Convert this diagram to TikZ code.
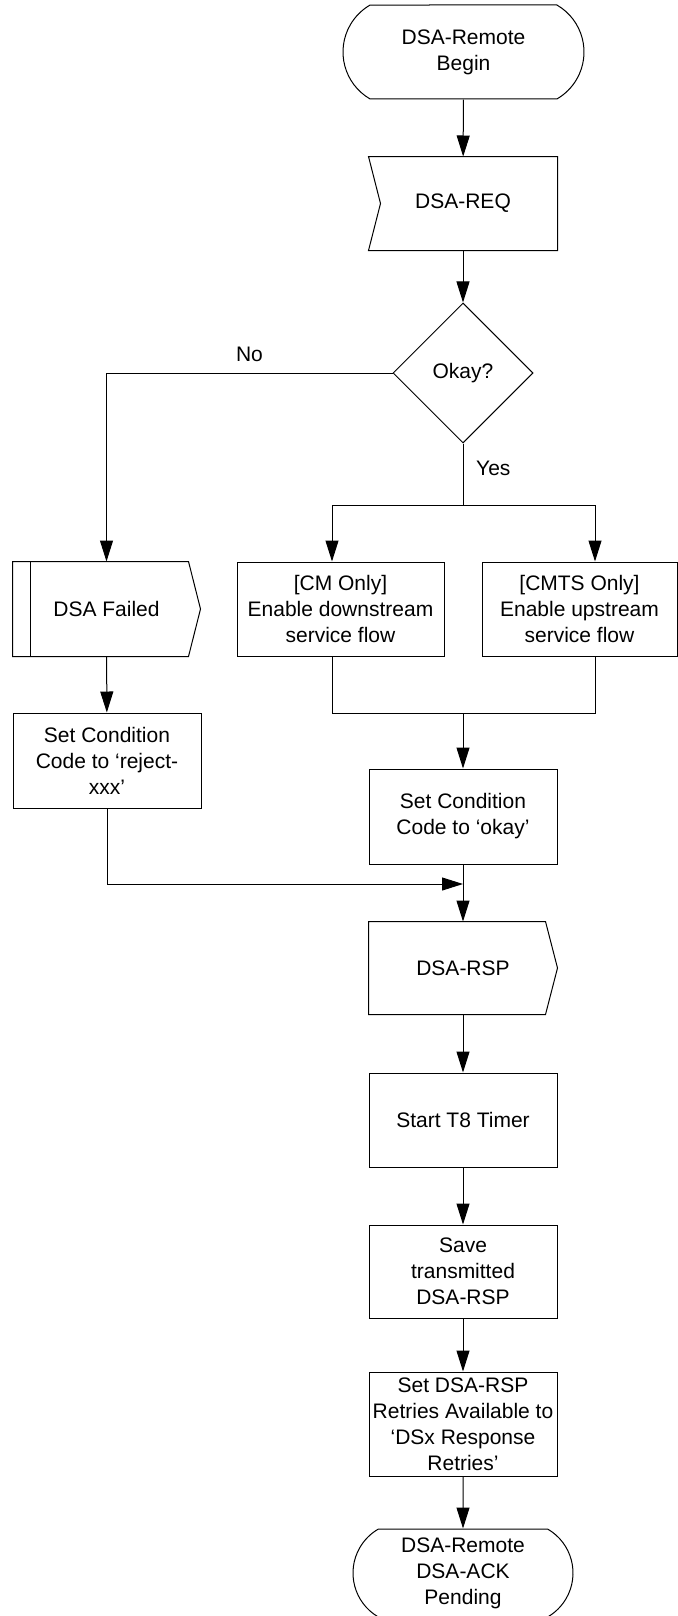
\documentclass[tikz,border=0pt]{standalone}
\usepackage{fontspec}
\setmainfont{Liberation Sans}
\usetikzlibrary{shapes.geometric,shapes.misc,arrows.meta,positioning,calc}
\tikzset{
  >={Triangle[length=10.5pt,width=6.5pt]},
  term/.style={rounded rectangle,rounded rectangle arc length=120,draw,
               inner sep=1pt,align=center},
  proc/.style={rectangle,draw,minimum width=94pt,inner sep=1pt,align=center},
  msg/.style={rectangle,inner sep=1pt,align=center},
  decide/.style={diamond,draw,aspect=1,minimum width=70pt,
                 minimum height=70pt,inner sep=0pt},
  arr/.style={->},
}

\begin{document}
\begin{tikzpicture}[x=0.5pt,y=-0.5pt,line width=0.5pt,
                    every node/.style={font=\fontsize{10.5}{13}\selectfont}]
    \useasboundingbox (0,0) rectangle (678,1616);

    % Top of the flow
    \node[term,minimum width=122.5pt,minimum height=47pt]
          (begin) at (463.5,52) {DSA-Remote\\Begin};
    \node[msg,minimum width=94pt,minimum height=46.5pt]
          (req) at (463,203.5) {DSA-REQ};
    \node[decide] (okay) at (463,373) {Okay?};

    % Branches
    \node[msg,minimum width=93.5pt,minimum height=47pt]
          (failed) at (106.5,609) {DSA Failed};
    \node[proc,minimum width=103.5pt,minimum height=47pt]
          (cm) at (340.5,609) {[CM Only]\\Enable downstream\\service flow};
    \node[proc,minimum width=97.5pt,minimum height=47pt]
          (cmts) at (579.5,609) {[CMTS Only]\\Enable upstream\\service flow};
    \node[proc,minimum height=47.5pt]
          (reject) at (107,760.5) {Set Condition\\Code to ‘reject-\\xxx’};
    \node[proc,minimum height=47.5pt]
          (codeok) at (463,816.5) {Set Condition\\Code to ‘okay’};

    % Response chain
    \node[msg,minimum width=94pt,minimum height=46pt]
          (rsp) at (463,968) {DSA-RSP};
    \node[proc,minimum height=47pt,below=29pt of rsp] (timer) {Start T8 Timer};
    \node[proc,minimum height=46.5pt,below=28.5pt of timer]
          (save) {Save\\transmitted\\DSA-RSP};
    \node[proc,minimum height=52pt,below=26.5pt of save]
          (retries) {Set DSA-RSP\\Retries Available to\\‘DSx Response\\Retries’};
    \node[term,minimum width=112pt,minimum height=44pt,below=26pt of retries]
          (finish) {DSA-Remote\\DSA-ACK\\Pending};

    % Outlines of the message shapes
    \draw (req.north west) -- (req.north east) -- (req.south east)
          -- (req.south west) -- ([xshift=6pt]req.west) -- cycle;
    \draw (failed.north west) -- ([xshift=-6pt]failed.north east)
          -- (failed.east) -- ([xshift=-6pt]failed.south east)
          -- (failed.south west) -- cycle;
    \draw ([xshift=9pt]failed.north west) -- ([xshift=9pt]failed.south west);
    \draw (rsp.north west) -- ([xshift=-6pt]rsp.north east)
          -- (rsp.east) -- ([xshift=-6pt]rsp.south east)
          -- (rsp.south west) -- cycle;

    % Junctions
    \coordinate (split) at (463,505);
    \coordinate (merge) at (463,713);
    \coordinate (join)  at (463,884);

    % Arrows
    \draw[arr] (begin) -- (req);
    \draw[arr] (req) -- (okay);
    \draw[arr] (okay.west) -| node[pos=0.25,above=2pt] {No} (failed.north);
    \draw (okay.south) -- node[pos=0.4,right=3pt] {Yes} (split);
    \draw[arr] (split) -| ([xshift=-4.25pt]cm.north);
    \draw[arr] (split) -| ([xshift=7.75pt]cmts.north);
    \draw ([xshift=-4.25pt]cm.south) |- (merge);
    \draw ([xshift=7.75pt]cmts.south) |- (merge);
    \draw[arr] (merge) -- (codeok);
    \draw[arr] (failed) -- (reject);
    \draw[arr] (reject.south) |- (join);
    \draw[arr] (codeok) -- (rsp);
    \foreach \a/\b in {rsp/timer,timer/save,save/retries,retries/finish}
      \draw[arr] (\a) -- (\b);
\end{tikzpicture}
\end{document}
